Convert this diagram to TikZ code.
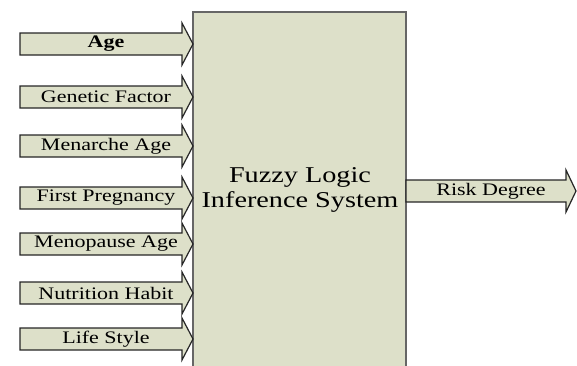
\documentclass[tikz,border=0pt]{standalone}
\usepackage{fontspec}
\setmainfont{Liberation Serif}[FakeStretch=1.25]
\definecolor{fisfill}{RGB}{221,224,201}

\begin{document}
\begin{tikzpicture}[x=0.5pt, y=-0.5pt,
    arrowshape/.style={draw=black!85, fill=fisfill, line width=0.6pt, line join=miter},
    lbl/.style={font=\fontsize{8.8}{10}\selectfont, inner sep=0pt}]

\useasboundingbox (0,0) rectangle (577,365);

% System box (open at the bottom)
\fill[fisfill] (193,12) rectangle (406,366);
\draw[black!60, line width=0.6pt] (193,366) -- (193,12) -- (406,12) -- (406,366);
\node[align=center, inner sep=0pt, font=\fontsize{11.3}{12.5}\selectfont] (fis) at (300,190)
      {Fuzzy Logic\\Inference System};

% Inputs
\foreach \y/\nm/\txt in {44/age/\textbf{Age}, 97/gen/Genetic Factor, 146/men/Menarche Age,
    198/preg/First Pregnancy, 244/meno/Menopause Age, 293/nutr/Nutrition Habit,
    339/life/Life Style}{
  \draw[arrowshape] (20,\y-11) -- (182,\y-11) -- (182,\y-21) -- (193,\y)
        -- (182,\y+21) -- (182,\y+11) -- (20,\y+11) -- cycle;
  \node[lbl] (\nm) at (106,\y) {\txt};
}

% Output
\draw[arrowshape] (406,180) -- (566,180) -- (566,170) -- (576,191)
      -- (566,212) -- (566,202) -- (406,202) -- cycle;
\node[lbl] (risk) at (491,191) {Risk Degree};

\end{tikzpicture}
\end{document}
